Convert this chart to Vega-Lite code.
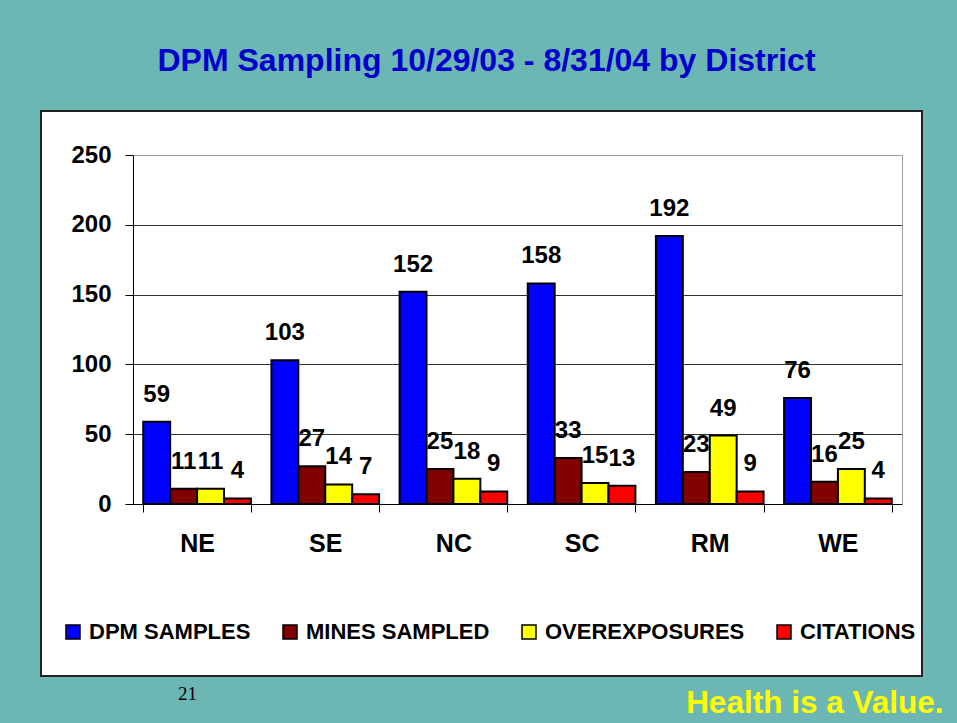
{
  "$schema": "https://vega.github.io/schema/vega-lite/v6.json",
  "width": 881,
  "height": 565,
  "autosize": {"type": "none"},
  "padding": {"left": 41, "top": 111, "right": 35, "bottom": 47},
  "background": "#6CB6B4",
  "view": {"fill": "white", "stroke": "#222222", "strokeWidth": 2},
  "title": {
    "text": "DPM Sampling 10/29/03 - 8/31/04 by District",
    "font": "Liberation Sans",
    "fontSize": 32,
    "fontWeight": "bold",
    "color": "#0000CC",
    "anchor": "middle",
    "offset": 33,
    "dx": 5
  },
  "data": {
    "values": [
      {"district": "NE", "series": "DPM SAMPLES", "value": 59},
      {"district": "NE", "series": "MINES SAMPLED", "value": 11},
      {"district": "NE", "series": "OVEREXPOSURES", "value": 11},
      {"district": "NE", "series": "CITATIONS", "value": 4},
      {"district": "SE", "series": "DPM SAMPLES", "value": 103},
      {"district": "SE", "series": "MINES SAMPLED", "value": 27},
      {"district": "SE", "series": "OVEREXPOSURES", "value": 14},
      {"district": "SE", "series": "CITATIONS", "value": 7},
      {"district": "NC", "series": "DPM SAMPLES", "value": 152},
      {"district": "NC", "series": "MINES SAMPLED", "value": 25},
      {"district": "NC", "series": "OVEREXPOSURES", "value": 18},
      {"district": "NC", "series": "CITATIONS", "value": 9},
      {"district": "SC", "series": "DPM SAMPLES", "value": 158},
      {"district": "SC", "series": "MINES SAMPLED", "value": 33},
      {"district": "SC", "series": "OVEREXPOSURES", "value": 15},
      {"district": "SC", "series": "CITATIONS", "value": 13},
      {"district": "RM", "series": "DPM SAMPLES", "value": 192},
      {"district": "RM", "series": "MINES SAMPLED", "value": 23},
      {"district": "RM", "series": "OVEREXPOSURES", "value": 49},
      {"district": "RM", "series": "CITATIONS", "value": 9},
      {"district": "WE", "series": "DPM SAMPLES", "value": 76},
      {"district": "WE", "series": "MINES SAMPLED", "value": 16},
      {"district": "WE", "series": "OVEREXPOSURES", "value": 25},
      {"district": "WE", "series": "CITATIONS", "value": 4}
    ]
  },
  "encoding": {
    "x": {
      "field": "district",
      "type": "nominal",
      "sort": null,
      "scale": {"range": [92, 861], "paddingInner": 0.16, "paddingOuter": 0.08},
      "axis": {
        "orient": "bottom",
        "offset": -172,
        "tickBand": "extent",
        "tickSize": 8,
        "tickColor": "black",
        "domainColor": "black",
        "domainWidth": 1,
        "grid": false,
        "labelAngle": 0,
        "labelFont": "Liberation Sans",
        "labelFontSize": 25,
        "labelFontWeight": "bold",
        "labelColor": "black",
        "labelPadding": 19,
        "title": "Health is a Value.",
        "titleFont": "Liberation Sans",
        "titleFontSize": 31.5,
        "titleFontWeight": "bold",
        "titleColor": "#FFFF00",
        "titleX": 902,
        "titleY": 208,
        "titleAlign": "right",
        "titleBaseline": "alphabetic"
      }
    },
    "xOffset": {
      "field": "series",
      "type": "nominal",
      "sort": ["DPM SAMPLES", "MINES SAMPLED", "OVEREXPOSURES", "CITATIONS"],
      "scale": {"paddingInner": 0, "paddingOuter": 0}
    },
    "y": {
      "field": "value",
      "type": "quantitative",
      "scale": {"domain": [0, 250], "range": [393, 44], "nice": false},
      "axis": {
        "orient": "left",
        "offset": -92,
        "values": [0, 50, 100, 150, 200, 250],
        "tickSize": 8,
        "tickColor": "black",
        "domainColor": "black",
        "domainWidth": 1,
        "grid": true,
        "gridColor": {"condition": {"test": "datum.value == 250", "value": "#A0A0A0"}, "value": "#333333"},
        "gridWidth": 1,
        "gridOpacity": 1,
        "labelFont": "Liberation Sans",
        "labelFontSize": 24,
        "labelFontWeight": "bold",
        "labelColor": "black",
        "labelPadding": 14,
        "title": "21",
        "titleFont": "Liberation Serif",
        "titleFontSize": 19,
        "titleFontWeight": "normal",
        "titleColor": "black",
        "titleAngle": 0,
        "titleX": 54,
        "titleY": 588,
        "titleAlign": "center",
        "titleBaseline": "alphabetic"
      }
    }
  },
  "layer": [
    {
      "mark": {"type": "bar", "stroke": "black", "strokeWidth": 2},
      "encoding": {
        "color": {
          "field": "series",
          "type": "nominal",
          "sort": ["DPM SAMPLES", "MINES SAMPLED", "OVEREXPOSURES", "CITATIONS"],
          "scale": {
            "domain": ["DPM SAMPLES", "MINES SAMPLED", "OVEREXPOSURES", "CITATIONS"],
            "range": ["#0000FF", "#800000", "#FFFF00", "#FF0000"]
          },
          "legend": {
            "orient": "none",
            "legendX": 21,
            "legendY": 510,
            "direction": "horizontal",
            "title": null,
            "symbolType": "square",
            "symbolSize": 196,
            "symbolStrokeColor": "black",
            "symbolStrokeWidth": 1.5,
            "symbolOpacity": 1,
            "labelFont": "Liberation Sans",
            "labelFontSize": 22,
            "labelFontWeight": "bold",
            "labelColor": "black",
            "labelLimit": 0,
            "labelOffset": 5,
            "columnPadding": 28,
            "padding": 0
          }
        }
      }
    },
    {
      "mark": {
        "type": "text",
        "font": "Liberation Sans",
        "fontSize": 24,
        "fontWeight": "bold",
        "baseline": "alphabetic",
        "dy": -20,
        "color": "black"
      },
      "encoding": {
        "text": {"field": "value", "type": "quantitative"},
        "y": {
          "field": "value",
          "type": "quantitative",
          "axis": {
            "orient": "right",
            "offset": -20,
            "labels": false,
            "ticks": false,
            "grid": false,
            "domainColor": "#A0A0A0",
            "domainWidth": 1,
            "title": null
          }
        }
      }
    }
  ],
  "resolve": {"axis": {"y": "independent"}}
}
